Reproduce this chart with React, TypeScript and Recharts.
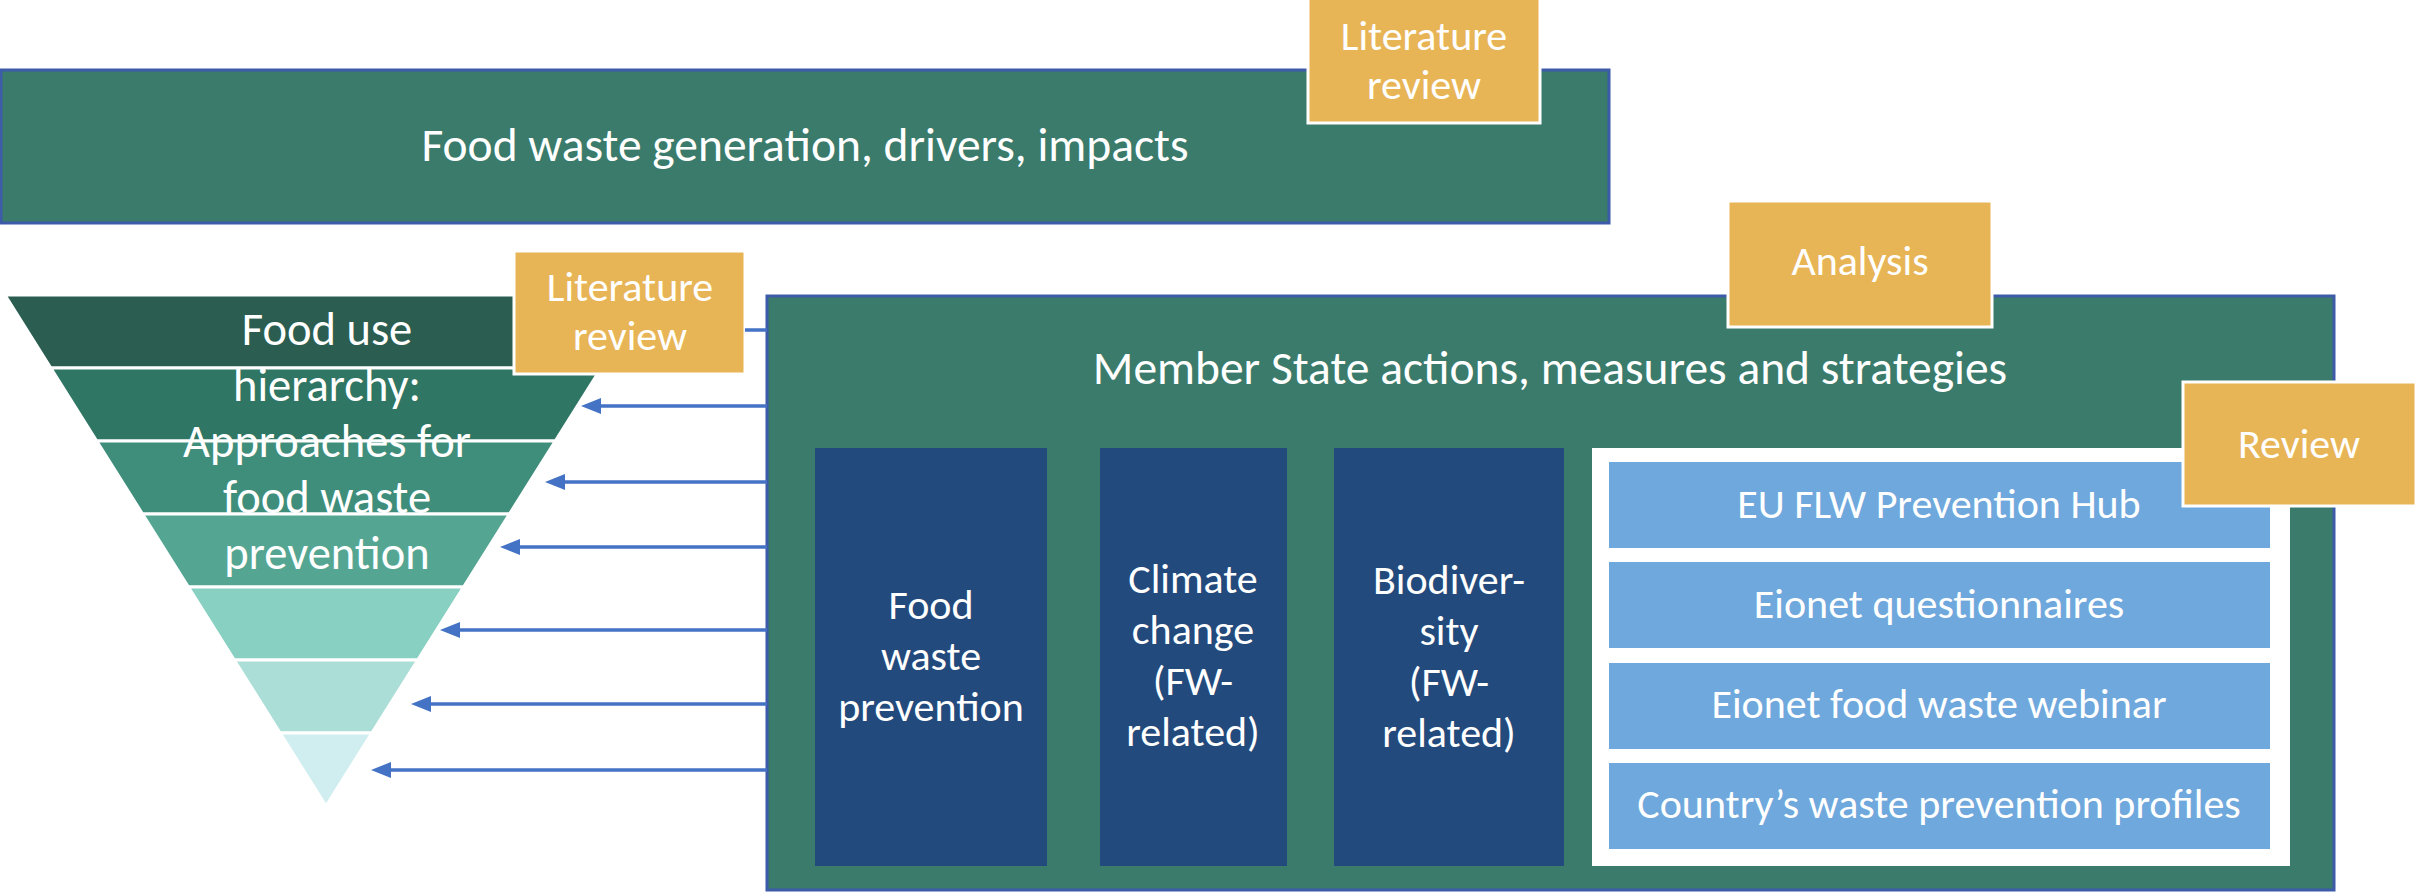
import React from 'react';
import {
  ComposedChart,
  XAxis,
  YAxis,
  ReferenceArea,
  ReferenceLine,
  ReferenceDot,
  FunnelChart,
  Funnel,
  Cell,
} from 'recharts';

const W = 2417;
const H = 894;

// ---- Food use hierarchy (inverted pyramid): relative width of each tier ----
const tierNames = ['Tier 1', 'Tier 2', 'Tier 3', 'Tier 4', 'Tier 5', 'Tier 6', 'Tier 7'];
const tierValues = [7, 6, 5, 4, 3, 2, 1];
const tierColors = ['#2b5e50', '#2f7664', '#3f8e7b', '#54a693', '#88d0c1', '#aaded6', '#d0eef0'];

// ---- Diagram boxes (page coordinates) ----
const greenPanels = [
  { name: 'Food waste generation, drivers, impacts', x1: 1, x2: 1609, y1: 70, y2: 223 },
  { name: 'Member State actions, measures and strategies', x1: 767, x2: 2334, y1: 296, y2: 890 },
];
const topicBoxes = [
  { name: 'Food waste prevention', x1: 815, x2: 1047, y1: 448, y2: 866 },
  { name: 'Climate change (FW-related)', x1: 1100, x2: 1287, y1: 448, y2: 866 },
  { name: 'Biodiversity (FW-related)', x1: 1334, x2: 1564, y1: 448, y2: 866 },
];
const sourcePanel = [{ name: 'Sources', x1: 1592, x2: 2290, y1: 448, y2: 866 }];
const sourceRows = [
  { name: 'EU FLW Prevention Hub', x1: 1609, x2: 2270, y1: 462, y2: 548 },
  { name: 'Eionet questionnaires', x1: 1609, x2: 2270, y1: 562, y2: 648 },
  { name: 'Eionet food waste webinar', x1: 1609, x2: 2270, y1: 663, y2: 749 },
  { name: "Country’s waste prevention profiles", x1: 1609, x2: 2270, y1: 763, y2: 849 },
];
const methodBoxes = [
  { name: 'Literature review (top)', x1: 1308, x2: 1540, y1: -4, y2: 123 },
  { name: 'Literature review (hierarchy)', x1: 514, x2: 745, y1: 251, y2: 374 },
  { name: 'Analysis', x1: 1728, x2: 1992, y1: 201, y2: 327 },
  { name: 'Review', x1: 2183, x2: 2416, y1: 382, y2: 506 },
];

// ---- Arrows from the Member State box to the hierarchy tiers ----
const arrowStartX = 767;
const arrowRowsY = [406, 482, 547, 630, 704, 770];
const arrowTipsX = [581, 545, 500, 440, 411, 371];
const connector = { y: 330, x1: 745, x2: 767 };

// ---- Texts: anchor = centre x, first baseline y ----
const textBlocks = [
  { role: 'title', lines: ['Food waste generation, drivers, impacts'], x: 805, y: 161 },
  { role: 'tag', lines: ['Literature', 'review'], x: 1424, y: 50 },
  { role: 'pyramid', lines: ['Food use', 'hierarchy:', 'Approaches for', 'food waste', 'prevention'], x: 327, y: 345 },
  { role: 'tag', lines: ['Literature', 'review'], x: 630, y: 301 },
  { role: 'tag', lines: ['Analysis'], x: 1860, y: 275 },
  { role: 'title', lines: ['Member State actions, measures and strategies'], x: 1550, y: 384 },
  { role: 'topic', lines: ['Food', 'waste', 'prevention'], x: 931, y: 619 },
  { role: 'topic', lines: ['Climate', 'change', '(FW-', 'related)'], x: 1193, y: 593 },
  { role: 'topic', lines: ['Biodiver-', 'sity', '(FW-', 'related)'], x: 1449, y: 594 },
  { role: 'row', lines: ['EU FLW Prevention Hub'], x: 1939, y: 518 },
  { role: 'row', lines: ['Eionet questionnaires'], x: 1939, y: 618 },
  { role: 'row', lines: ['Eionet food waste webinar'], x: 1939, y: 718 },
  { role: 'row', lines: ["Country’s waste prevention profiles"], x: 1939, y: 818 },
  { role: 'tag', lines: ['Review'], x: 2299, y: 458 },
];

const FONT = "Carlito, Lato, 'Open Sans', sans-serif";
const textStyle: Record<string, { size: number; lh: number }> = {
  title: { size: 47.5, lh: 56 },
  pyramid: { size: 46.5, lh: 56 },
  tag: { size: 42, lh: 49 },
  topic: { size: 42, lh: 51 },
  row: { size: 42, lh: 50 },
};

const GREEN = '#3a7b6c';
const BORDER = '#3d5ba8';
const NAVY = '#234a7c';
const LIGHT = '#6fa8dc';
const ORANGE = '#e8b556';
const ARROW = '#4472c4';

const tierData = tierNames.map((name, i) => ({ name, value: tierValues[i] }));

const makeText = (lines: string[], role: string) => (props: any) => {
  const { cx, cy } = props;
  const st = textStyle[role];
  return (
    <text x={cx} y={cy} textAnchor="middle" fill="#ffffff" fontFamily={FONT} fontSize={st.size}>
      {lines.map((l, i) => (
        <tspan key={i} x={cx} y={cy + i * st.lh}>
          {l}
        </tspan>
      ))}
    </text>
  );
};

const arrowHead = (props: any) => {
  const { cx, cy } = props;
  return <polygon points={`${cx},${cy} ${cx + 20},${cy - 8} ${cx + 20},${cy + 8}`} fill={ARROW} />;
};

export default function App() {
  return (
    <div style={{ position: 'absolute', left: 0, top: 0, width: W, height: H, background: '#ffffff' }}>
      <div style={{ position: 'absolute', left: 5, top: 295 }}>
        <FunnelChart width={642} height={511} margin={{ top: 0, right: 0, bottom: 0, left: 0 }}>
          <Funnel
            data={tierData}
            dataKey="value"
            nameKey="name"
            isAnimationActive={false}
            lastShapeType="triangle"
            stroke="#ffffff"
            strokeWidth={3}
          >
            {tierData.map((d, i) => (
              <Cell key={d.name} fill={tierColors[i]} />
            ))}
          </Funnel>
        </FunnelChart>
      </div>
      <div style={{ position: 'absolute', left: 0, top: 0 }}>
        <ComposedChart width={W} height={H} margin={{ top: 0, right: 0, bottom: 0, left: 0 }}>
          <XAxis type="number" dataKey="x" domain={[0, W]} allowDataOverflow hide />
          <YAxis type="number" domain={[0, H]} allowDataOverflow reversed hide />
          {greenPanels.map((b) => (
            <ReferenceArea key={b.name} x1={b.x1} x2={b.x2} y1={b.y1} y2={b.y2} fill={GREEN} fillOpacity={1} stroke={BORDER} strokeWidth={3} ifOverflow="visible" />
          ))}
          {topicBoxes.map((b) => (
            <ReferenceArea key={b.name} x1={b.x1} x2={b.x2} y1={b.y1} y2={b.y2} fill={NAVY} fillOpacity={1} stroke="none" ifOverflow="visible" />
          ))}
          {sourcePanel.map((b) => (
            <ReferenceArea key={b.name} x1={b.x1} x2={b.x2} y1={b.y1} y2={b.y2} fill="#ffffff" fillOpacity={1} stroke="none" ifOverflow="visible" />
          ))}
          {sourceRows.map((b) => (
            <ReferenceArea key={b.name} x1={b.x1} x2={b.x2} y1={b.y1} y2={b.y2} fill={LIGHT} fillOpacity={1} stroke="none" ifOverflow="visible" />
          ))}
          {arrowRowsY.map((y, i) => (
            <ReferenceLine
              key={'a' + i}
              segment={[{ x: arrowStartX, y }, { x: arrowTipsX[i] + 12, y }]}
              stroke={ARROW}
              strokeWidth={3.5}
              ifOverflow="visible"
            />
          ))}
          <ReferenceLine
            segment={[{ x: connector.x1, y: connector.y }, { x: connector.x2, y: connector.y }]}
            stroke={ARROW}
            strokeWidth={3.5}
            ifOverflow="visible"
          />
          {arrowRowsY.map((y, i) => (
            <ReferenceDot key={'h' + i} x={arrowTipsX[i]} y={y} r={8} shape={arrowHead} ifOverflow="visible" />
          ))}
          {methodBoxes.map((b) => (
            <ReferenceArea key={b.name} x1={b.x1} x2={b.x2} y1={b.y1} y2={b.y2} fill={ORANGE} fillOpacity={1} stroke="#ffffff" strokeWidth={3} ifOverflow="visible" />
          ))}
          {textBlocks.map((t, i) => (
            <ReferenceDot key={'t' + i} x={t.x} y={t.y} r={1} shape={makeText(t.lines, t.role)} ifOverflow="visible" />
          ))}
        </ComposedChart>
      </div>
    </div>
  );
}
